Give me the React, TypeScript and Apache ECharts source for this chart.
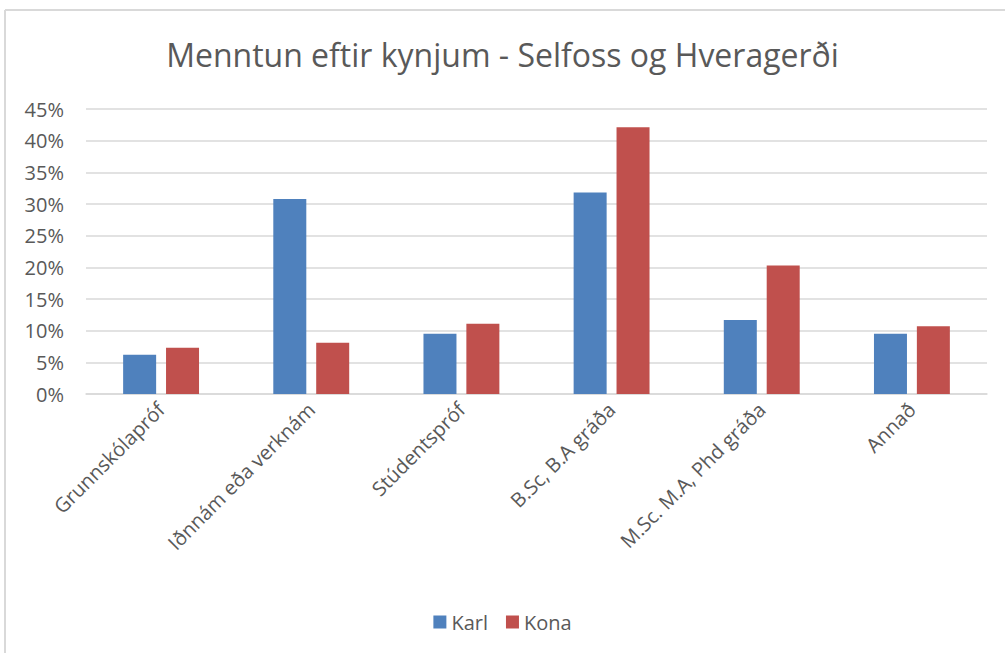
import React, { useEffect, useRef } from "react";
import * as echarts from "echarts";

const categories = [
  "Grunnskólapróf",
  "Iðnnám eða verknám",
  "Stúdentspróf",
  "B.Sc, B.A gráða",
  "M.Sc. M.A, Phd gráða",
  "Annað",
];
const karl = [6.2, 30.8, 9.5, 31.8, 11.7, 9.5];
const kona = [7.3, 8.1, 11.1, 42.1, 20.3, 10.7];
const seriesNames = ["Karl", "Kona"];
const titleText = "Menntun eftir kynjum - Selfoss og Hveragerði";

const FONT = "'Open Sans', 'Noto Sans', sans-serif";
const TEXT = "#595959";

export default function App() {
  const ref = useRef<HTMLDivElement>(null);
  useEffect(() => {
    if (!ref.current) return;
    const chart = echarts.init(ref.current, undefined, { renderer: "svg" });
    chart.setOption({
      animation: false,
      backgroundColor: "#ffffff",
      title: {
        text: titleText,
        left: "center",
        top: 33,
        textStyle: { fontFamily: FONT, fontSize: 32, fontWeight: "normal", color: TEXT },
      },
      legend: {
        data: seriesNames,
        bottom: 16,
        left: "center",
        itemWidth: 13,
        itemHeight: 13,
        itemGap: 18,
        icon: "rect",
        textStyle: { fontFamily: FONT, fontSize: 20, color: TEXT },
      },
      grid: { left: 86, right: 18, top: 109, bottom: 259, containLabel: false },
      xAxis: {
        type: "category",
        data: categories,
        axisLine: { show: true, lineStyle: { color: "#d9d9d9", width: 1.5 } },
        axisTick: { show: false },
        axisLabel: {
          rotate: 45,
          interval: 0,
          margin: 12,
          fontFamily: FONT,
          fontSize: 20,
          color: TEXT,
        },
      },
      yAxis: {
        type: "value",
        min: 0,
        max: 45,
        interval: 5,
        axisLine: { show: false },
        axisTick: { show: false },
        splitLine: { lineStyle: { color: "#d9d9d9", width: 1.5 } },
        axisLabel: {
          formatter: "{value}%",
          margin: 22,
          fontFamily: FONT,
          fontSize: 20,
          color: TEXT,
        },
      },
      series: [
        {
          name: seriesNames[0],
          type: "bar",
          data: karl,
          barWidth: 33,
          barGap: "30%",
          itemStyle: { color: "#4F81BD" },
        },
        {
          name: seriesNames[1],
          type: "bar",
          data: kona,
          barWidth: 33,
          barGap: "30%",
          itemStyle: { color: "#C0504D" },
        },
      ],
      graphic: [
        {
          type: "line",
          shape: { x1: 5, y1: 10, x2: 1005, y2: 10 },
          style: { stroke: "#d9d9d9", lineWidth: 2 },
        },
        {
          type: "line",
          shape: { x1: 5, y1: 10, x2: 5, y2: 653 },
          style: { stroke: "#d9d9d9", lineWidth: 2 },
        },
      ],
    });
    return () => chart.dispose();
  }, []);
  return (
    <div
      ref={ref}
      style={{ position: "fixed", left: 0, top: 0, width: 1005, height: 653 }}
    />
  );
}
